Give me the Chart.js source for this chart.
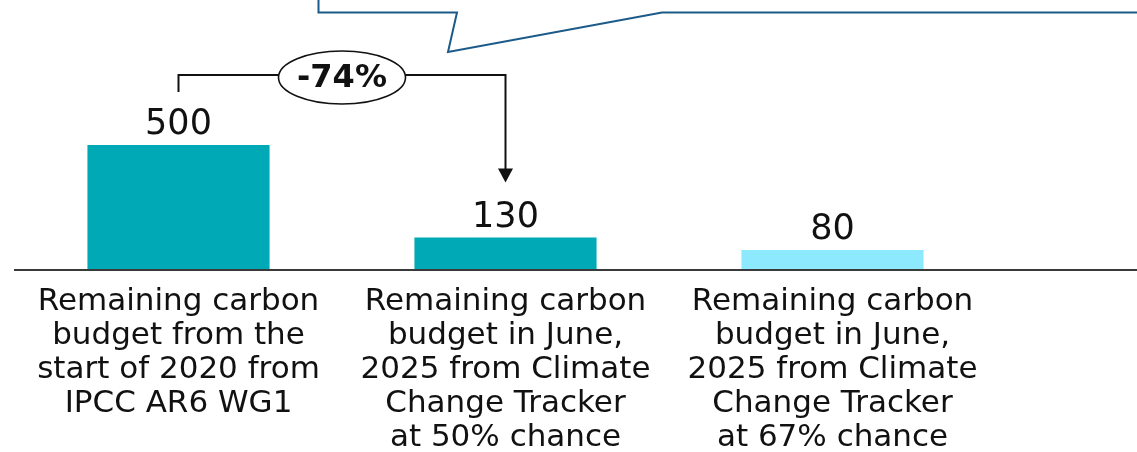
<!DOCTYPE html>
<html>
<head>
<meta charset="utf-8">
<script src="https://cdn.jsdelivr.net/npm/chart.js@4.4.1/dist/chart.umd.min.js"></script>
<style>
  html, body { margin: 0; padding: 0; background: #fff; }
  canvas { display: block; }
</style>
</head>
<body>
<canvas id="budget-chart" width="1137" height="452"></canvas>
<script>
// --- data ---
const categories = [
    ['Remaining carbon', 'budget from the', 'start of 2020 from', 'IPCC AR6 WG1'],
    ['Remaining carbon', 'budget in June,', '2025 from Climate', 'Change Tracker', 'at 50% chance'],
    ['Remaining carbon', 'budget in June,', '2025 from Climate', 'Change Tracker', 'at 67% chance']
];
const budgetValues = [500, 130, 80];
const valueLabels = ['500', '130', '80'];
const barColors = ['#00A9B6', '#00A9B6', '#8DEAFE'];
const changeLabel = '-74%';

const FONT = '"DejaVu Sans", sans-serif';

// baseline, value labels, category labels, bracket and callout
const decorations = {
    id: 'decorations',
    afterDatasetsDraw(chart) {
        const ctx = chart.ctx;
        const x = chart.scales.x;
        const y = chart.scales.y;
        const y0 = y.getPixelForValue(0);
        ctx.save();

        // baseline across the whole width
        ctx.strokeStyle = '#3a3a3a';
        ctx.lineWidth = 2;
        ctx.beginPath();
        ctx.moveTo(14, y0);
        ctx.lineTo(chart.width, y0);
        ctx.stroke();

        // value labels above bars
        ctx.fillStyle = '#111';
        ctx.textAlign = 'center';
        ctx.textBaseline = 'alphabetic';
        ctx.font = '35px ' + FONT;
        budgetValues.forEach((v, i) => {
            ctx.fillText(valueLabels[i], x.getPixelForValue(i), y.getPixelForValue(v) - 11);
        });

        // category labels
        ctx.font = '31px ' + FONT;
        categories.forEach((lines, i) => {
            lines.forEach((line, j) => {
                ctx.fillText(line, x.getPixelForValue(i), y0 + 40 + j * 34);
            });
        });

        // bracket from bar 1 to bar 2
        const xa = x.getPixelForValue(0);
        const xb = x.getPixelForValue(1);
        const top = 75;
        const tip = y.getPixelForValue(budgetValues[1]) - 55;
        ctx.strokeStyle = '#111';
        ctx.lineWidth = 2;
        ctx.beginPath();
        ctx.moveTo(xa, 92);
        ctx.lineTo(xa, top);
        ctx.lineTo(xb, top);
        ctx.lineTo(xb, tip - 12);
        ctx.stroke();
        ctx.fillStyle = '#111';
        ctx.beginPath();
        ctx.moveTo(xb - 7.5, tip - 14);
        ctx.lineTo(xb + 7.5, tip - 14);
        ctx.lineTo(xb, tip);
        ctx.closePath();
        ctx.fill();

        // ellipse with percentage
        const ex = 342, ey = 77.5;
        ctx.fillStyle = '#fff';
        ctx.lineWidth = 1.6;
        ctx.beginPath();
        ctx.ellipse(ex, ey, 63.5, 26.5, 0, 0, Math.PI * 2);
        ctx.fill();
        ctx.stroke();
        ctx.fillStyle = '#111';
        ctx.font = 'bold 32px ' + FONT;
        ctx.textBaseline = 'middle';
        ctx.fillText(changeLabel, ex, ey + 1);

        // speech-bubble outline at the top
        ctx.strokeStyle = '#1B5A89';
        ctx.lineWidth = 2;
        ctx.lineJoin = 'miter';
        ctx.beginPath();
        ctx.moveTo(318.5, -5);
        ctx.lineTo(318.5, 12.5);
        ctx.lineTo(457, 12.5);
        ctx.lineTo(448, 52);
        ctx.lineTo(662, 12.5);
        ctx.lineTo(chart.width + 5, 12.5);
        ctx.stroke();

        ctx.restore();
    }
};

new Chart(document.getElementById('budget-chart'), {
    type: 'bar',
    data: {
        labels: categories,
        datasets: [{
            data: budgetValues,
            backgroundColor: barColors,
            borderWidth: 0,
            barPercentage: 0.557,
            categoryPercentage: 1
        }]
    },
    options: {
        responsive: false,
        animation: false,
        layout: { padding: { top: 20, bottom: 182, left: 15, right: 141 } },
        plugins: {
            legend: { display: false },
            tooltip: { enabled: false }
        },
        scales: {
            x: { display: false },
            y: { display: false, min: 0, max: 1000 }
        }
    },
    plugins: [decorations]
});
</script>
</body>
</html>
